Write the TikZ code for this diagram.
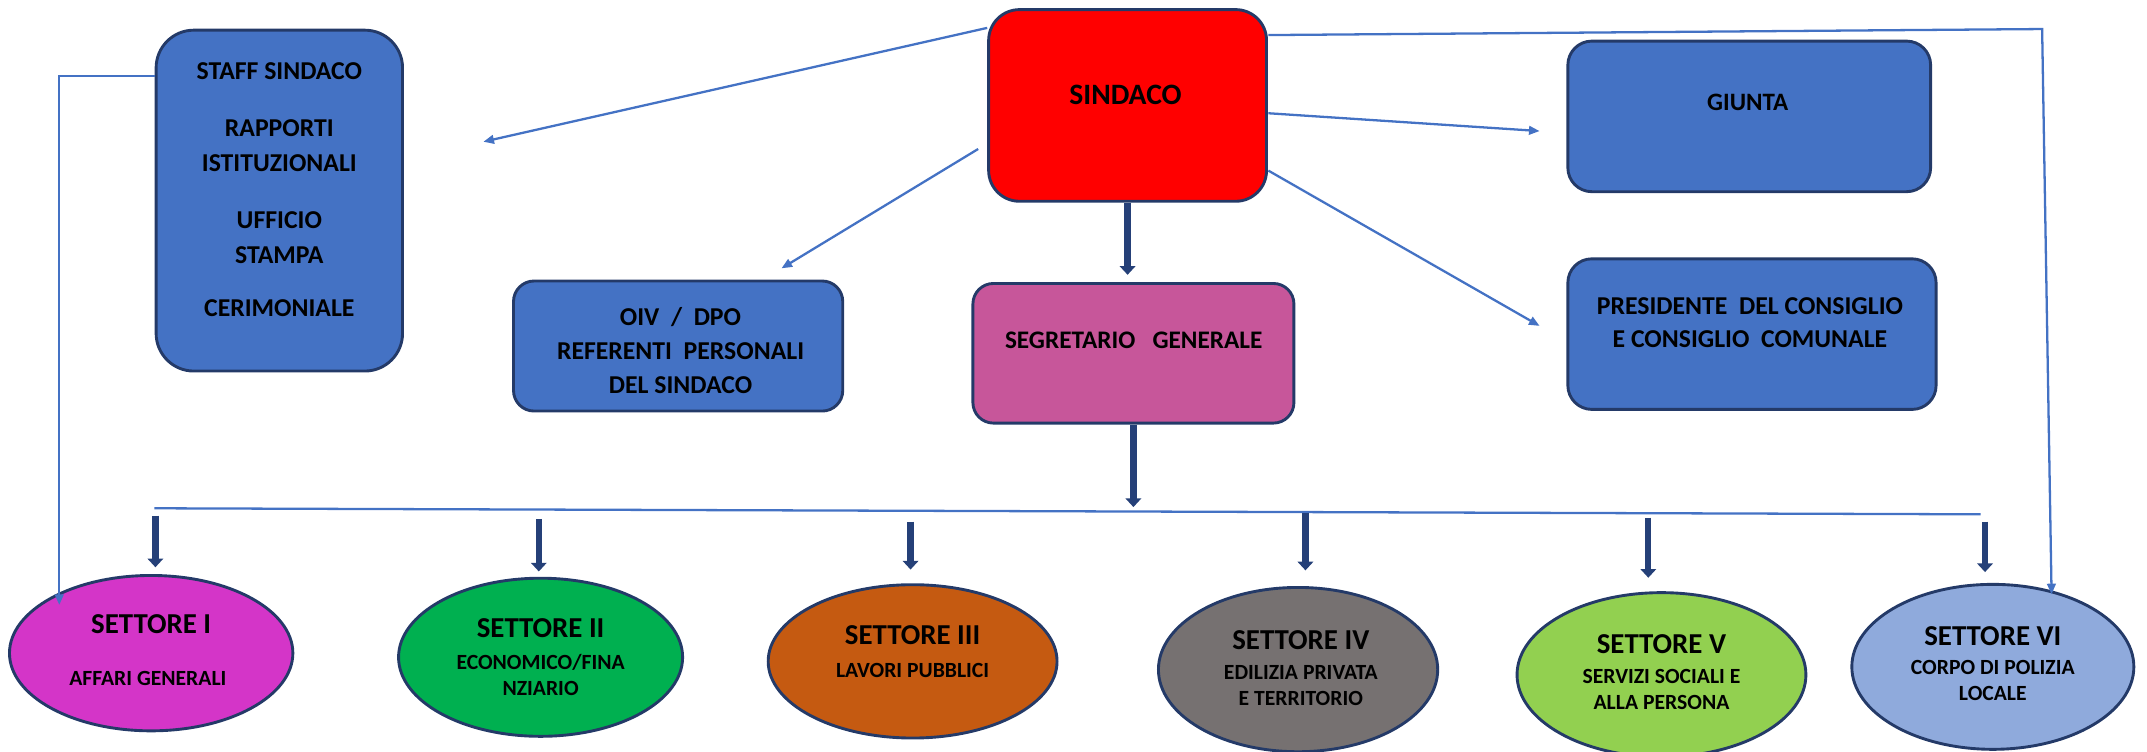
\documentclass[tikz,border=0pt]{standalone}
\usepackage{fontspec}
\setmainfont{Carlito}
\usepackage{xcolor}
\usepackage{tikz}
\usetikzlibrary{arrows.meta, positioning, shapes.geometric, calc}
\definecolor{orgblue}{RGB}{68,114,196}
\definecolor{orgnavy}{RGB}{36,58,104}
\definecolor{orgdeep}{RGB}{37,64,120}
\definecolor{orgred}{RGB}{255,0,0}
\definecolor{orgpink}{RGB}{199,86,154}
\definecolor{setmagenta}{RGB}{212,53,200}
\definecolor{setgreen}{RGB}{0,176,80}
\definecolor{setorange}{RGB}{197,90,17}
\definecolor{setgray}{RGB}{118,113,113}
\definecolor{setlime}{RGB}{146,208,80}
\definecolor{setsky}{RGB}{143,170,220}

\begin{document}
\begin{tikzpicture}[x=0.02cm, y=-0.02cm,
    office/.style={rectangle, rounded corners=0.35cm, draw=orgnavy, line width=1.2pt, fill=orgblue},
    settore/.style={ellipse, draw=orgnavy, line width=1.2pt},
    boxtxt/.style={font=\fontsize{10.7}{14.6}\selectfont\bfseries, align=center, inner sep=0pt},
    headtxt/.style={font=\fontsize{12}{14}\selectfont\bfseries, inner sep=0pt},
    subtxt/.style={font=\fontsize{9}{10.7}\selectfont\bfseries, align=center, inner sep=0pt},
    arr/.style={-{Triangle[length=4.4pt, width=3.6pt]}, line width=0.95pt, orgblue},
    bigarr/.style={-{Triangle[length=3.6pt, width=6.4pt]}, line width=2.6pt, orgdeep}
]
\useasboundingbox (0,0) rectangle (1568,549);

% Vertice — sindaco e organi
\node[office, fill=orgred, rounded corners=0.45cm, minimum width=4.06cm, minimum height=2.8cm] (sindaco) at (823.5,77) {};
\node[office, rounded corners=0.55cm, minimum width=3.6cm, minimum height=4.98cm] (staff) at (204,146.5) {};
\node[office, minimum width=5.3cm, minimum height=2.2cm] (giunta) at (1277.5,85) {};
\node[office, minimum width=5.38cm, minimum height=2.2cm] (pres) at (1279.5,244) {};
\node[office, rounded corners=0.3cm, minimum width=4.81cm, minimum height=1.9cm] (oiv) at (495.25,252.7) {};
\node[office, fill=orgpink, rounded corners=0.3cm, minimum width=4.69cm, minimum height=2.04cm] (segr) at (827.75,258) {};

\node[boxtxt, font=\fontsize{12.3}{14}\selectfont\bfseries] (sindacoT) at (822,69.4) {SINDACO};
\node[boxtxt] (staffT) at (204,138.7) {STAFF SINDACO\\[9pt] RAPPORTI\\ISTITUZIONALI\\[9pt] UFFICIO\\STAMPA\\[7.5pt] CERIMONIALE};
\node[boxtxt, font=\fontsize{10.4}{14}\selectfont\bfseries] (giuntaT) at (1276.4,74.7) {GIUNTA};
\node[boxtxt, font=\fontsize{10.7}{13.8}\selectfont\bfseries] (presT) at (1278,235.6) {PRESIDENTE~\ DEL CONSIGLIO\\E CONSIGLIO~ COMUNALE};
\node[boxtxt, font=\fontsize{10.7}{14.2}\selectfont\bfseries] (oivT) at (497,256.2) {OIV~~/~~DPO\\REFERENTI~~PERSONALI\\DEL SINDACO};
\node[boxtxt, font=\fontsize{10.5}{14}\selectfont\bfseries] (segrT) at (828,248.8) {SEGRETARIO~~~GENERALE};

% Settori
\node[settore, fill=setmagenta, minimum width=4.14cm, minimum height=2.27cm] (s1) at (110.4,477) {};
\node[settore, fill=setgreen, minimum width=4.15cm, minimum height=2.31cm] (s2) at (394.8,480) {};
\node[settore, fill=setorange, minimum width=4.22cm, minimum height=2.24cm] (s3) at (666.5,483) {};
\node[settore, fill=setgray, minimum width=4.08cm, minimum height=2.4cm] (s4) at (948,489) {};
\node[settore, fill=setlime, minimum width=4.22cm, minimum height=2.4cm] (s5) at (1213.4,492.8) {};
\node[settore, fill=setsky, minimum width=4.12cm, minimum height=2.41cm] (s6) at (1455.4,487) {};

\node[headtxt] (s1h) at (110.4,455.7) {SETTORE I};
\node[subtxt] (s1t) at (108,495.4) {AFFARI GENERALI};
\node[headtxt] (s2h) at (394.8,458.4) {SETTORE II};
\node[subtxt] (s2t) at (394.8,493.2) {ECONOMICO/FINA\\NZIARIO};
\node[headtxt] (s3h) at (666.5,464.2) {SETTORE III};
\node[subtxt] (s3t) at (666.5,489.3) {LAVORI PUBBLICI};
\node[headtxt] (s4h) at (950,467.4) {SETTORE IV};
\node[subtxt] (s4t) at (950,500.5) {EDILIZIA PRIVATA\\E TERRITORIO};
\node[headtxt] (s5h) at (1213.4,470.3) {SETTORE V};
\node[subtxt] (s5t) at (1213.4,503.5) {SERVIZI SOCIALI E\\ALLA PERSONA};
\node[headtxt] (s6h) at (1455.4,464.5) {SETTORE VI};
\node[subtxt] (s6t) at (1455.4,497.2) {CORPO DI POLIZIA\\LOCALE};

% Linea dei settori
\coordinate (busL) at (112.7,371.2);
\coordinate (busR) at (1446.5,375.6);
\draw[orgblue, line width=0.95pt] (busL) -- (busR);

% Collegamenti dal sindaco
\coordinate (c1) at (43.3,55.5);
\coordinate (c6) at (1491.4,21.2);
\draw[arr] ([shift={(0,14.4)}]sindaco.north west) -- ([shift={(58,-43)}]staff.east);
\draw[arr] ([shift={(-6.6,31.8)}]sindaco.west) -- ([shift={(75.5,-8.2)}]oiv.north);
\draw[arr] ([shift={(0.3,5.7)}]sindaco.east) -- ([shift={(-19.6,10.7)}]giunta.west);
\draw[arr] ([shift={(0.3,47.6)}]sindaco.east) -- ([shift={(-19.6,-6)}]pres.west);
\draw[arr] ([shift={(0.3,-51.4)}]sindaco.east) -- (c6) -- ([shift={(42.9,-53)}]s6.center);
\draw[arr] ([shift={(0,-91)}]staff.west) -- (c1) -- ([shift={(-67.1,-35.2)}]s1.center);

\draw[bigarr, shorten >=3pt] (sindaco.south) -- (sindaco.south |- segr.north);
\draw[bigarr, shorten >=0.5pt] (segr.south) -- (segr.south |- busL);

\foreach \n/\x/\y/\g in {1/113.5/376.6/2.8pt, 2/393.5/379/2.2pt, 3/665/381/5.7pt, 4/953.4/374.9/6.5pt, 5/1203.8/378/5.6pt, 6/1449.7/381/4.5pt} {
    \coordinate (b\n) at (\x,\y);
    \draw[bigarr, shorten >=\g] (b\n) -- (b\n |- s\n.north);
}

\end{tikzpicture}
\end{document}
